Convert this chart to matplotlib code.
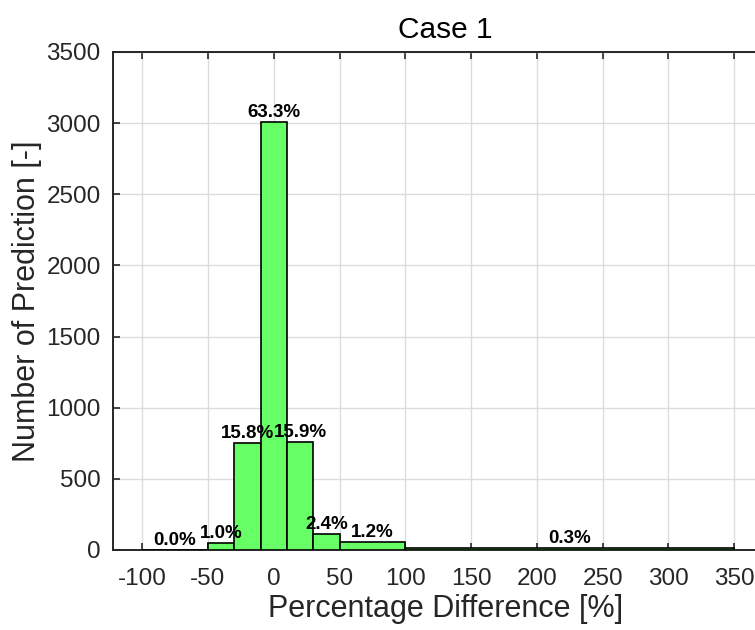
import numpy as np
import matplotlib.pyplot as plt

plt.rcParams['font.family'] = ['Liberation Sans', 'DejaVu Sans']
plt.rcParams['axes.unicode_minus'] = False

bin_edges = [-100, -50, -30, -10, 10, 30, 50, 100, 350]
counts = [1, 48, 751, 3008, 756, 114, 57, 14]
x_ticks = [-100, -50, 0, 50, 100, 150, 200, 250, 300, 350]
y_ticks = [0, 500, 1000, 1500, 2000, 2500, 3000, 3500]

edges = np.array(bin_edges, dtype=float)
counts = np.array(counts, dtype=float)
widths = np.diff(edges)
pct = counts / counts.sum() * 100

fig = plt.figure(figsize=(7.55, 6.3), dpi=100)
ax = fig.add_axes([0.150, 0.127, 0.88, 0.7905])

ax.bar(edges[:-1], counts, width=widths, align='edge',
       color='#66ff66', edgecolor='black', linewidth=1.2, zorder=3)

for left, w, c, p in zip(edges[:-1], widths, counts, pct):
    ax.text(left + w / 2, c + 8, f"{p:.1f}%", ha='center', va='bottom',
            fontsize=13.5, fontweight='bold', color='black', zorder=4)

ax.set_xlim(-122, 383)
ax.set_ylim(0, 3500)
ax.set_xticks(x_ticks)
ax.set_yticks(y_ticks)
ax.grid(True, color='#dcdcdc', linewidth=1.0, zorder=0)
ax.set_axisbelow(True)
ax.tick_params(direction='in', length=5, width=1.2, top=True, right=True,
               labelsize=17.5, colors='#262626')
ax.tick_params(axis='x', pad=13)
ax.tick_params(axis='y', pad=9)
for s in ax.spines.values():
    s.set_linewidth(1.4)
    s.set_color('#262626')

ax.set_xlabel("Percentage Difference [%]", fontsize=22, color='#262626', labelpad=3)
ax.set_ylabel("Number of Prediction [-]", fontsize=22, color='#262626', labelpad=3)
ax.set_title("Case 1", fontsize=21.5, color='black', pad=10)

fig.savefig("out.png", dpi=100)
